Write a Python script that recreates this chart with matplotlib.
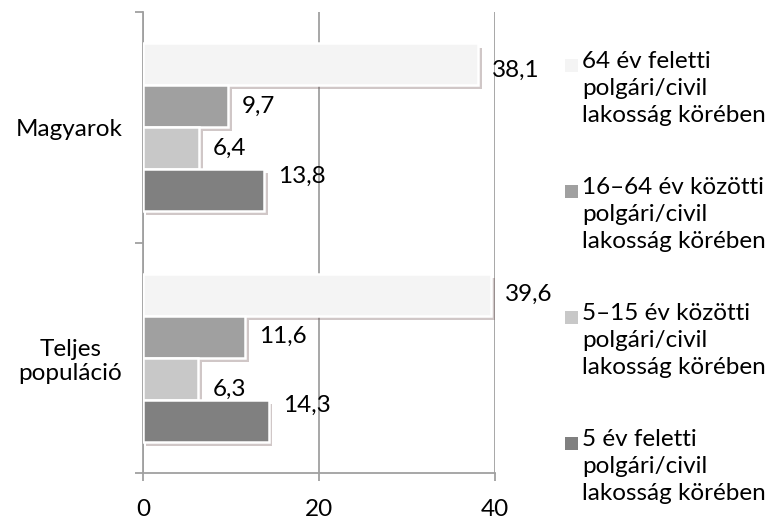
import matplotlib
matplotlib.use('Agg')
import matplotlib.pyplot as plt
import matplotlib.patheffects as pe
from matplotlib.patches import Rectangle
import numpy as np

plt.rcParams['font.family'] = ['Lato', 'DejaVu Sans']

# categories, bottom to top as drawn
categories = ['Teljes\npopuláció', 'Magyarok']
series = ['64 év feletti\npolgári/civil\nlakosság körében',
          '16–64 év közötti\npolgári/civil\nlakosság körében',
          '5–15 év közötti\npolgári/civil\nlakosság körében',
          '5 év feletti\npolgári/civil\nlakosság körében']
# values per series: [Teljes populáció, Magyarok]
v_64plus = [39.6, 38.1]
v_16_64 = [11.6, 9.7]
v_5_15 = [6.3, 6.4]
v_5plus = [14.3, 13.8]
values = [v_64plus, v_16_64, v_5_15, v_5plus]
colors = ['#f4f4f4', '#a0a0a0', '#c8c8c8', '#808080']
# small vertical nudges of the data labels (points), as in the original
nudges = [[0, -4], [0, 0], [-8, 0], [11, 10]]

fs = 17.5
fig = plt.figure(figsize=(7.75, 5.25), dpi=100)
ax = fig.add_axes([143/775, 1-473/525, 352/775, 461/525])

y = np.arange(len(categories))
h = 0.182
offsets = [1.5*h, 0.5*h, -0.5*h, -1.5*h]
shadow = [pe.SimplePatchShadow(offset=(2.5, -3), shadow_rgbFace='#7a6060', alpha=0.35), pe.Normal()]

for i in range(len(series)):
    bars = ax.barh(y + offsets[i], values[i], height=h, color=colors[i],
                   edgecolor='white', linewidth=1.8, zorder=3)
    for b in bars:
        b.set_path_effects(shadow)
    for j, v in enumerate(values[i]):
        ax.annotate(('%.1f' % v).replace('.', ','), (v, y[j] + offsets[i]),
                    xytext=(10, nudges[i][j]), textcoords='offset points',
                    ha='left', va='center', fontsize=fs, color='black', zorder=5)

ax.set_xlim(0, 40)
ax.set_ylim(-0.5, 1.5)
ax.set_xticks([0, 20, 40])
ax.set_yticks([-0.5, 0.5, 1.5])
ax.set_yticklabels([])
ax.set_yticks(y, minor=True)
ax.set_yticklabels(categories, minor=True, fontsize=fs, multialignment='center')
ax.tick_params(axis='y', which='minor', length=0, pad=15)
ax.tick_params(axis='y', which='major', length=6, width=1.3, color='#a0a0a0', direction='out')
ax.tick_params(axis='x', length=6, width=1.3, color='#a0a0a0', direction='out', pad=13, labelsize=fs)
ax.xaxis.grid(True, color='#a0a0a0', linewidth=1.3, zorder=0)
ax.set_axisbelow(True)
for s in ['top', 'right']:
    ax.spines[s].set_visible(False)
for s in ['left', 'bottom']:
    ax.spines[s].set_color('#a0a0a0')
    ax.spines[s].set_linewidth(1.3)

# legend drawn by hand so the marker sits on the first line
W, H = 775, 525
for i, lab in enumerate(series):
    yc = 65 + i*126
    fig.text(582/W, 1 - (yc - 14)/H, lab, fontsize=fs, va='top', ha='left',
             linespacing=1.35)
    fig.patches.append(Rectangle((565/W, 1 - (yc + 7)/H), 13/W, 13/H,
                                 transform=fig.transFigure, facecolor=colors[i],
                                 edgecolor='none'))

fig.savefig('out.png', dpi=100)
